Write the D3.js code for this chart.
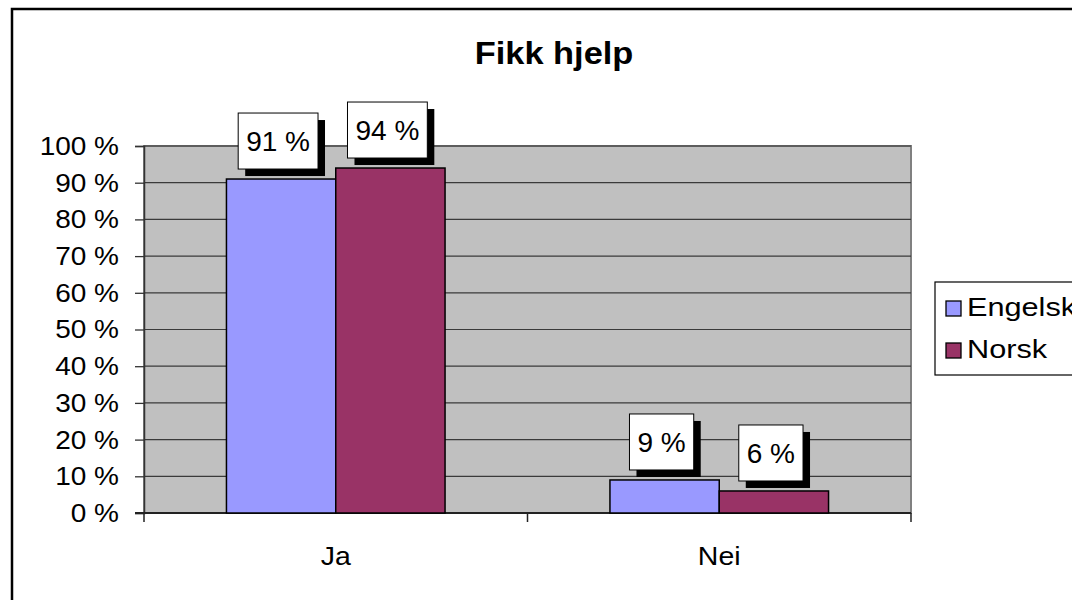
<!DOCTYPE html>
<html>
<head>
<meta charset="utf-8">
<script src="https://cdn.jsdelivr.net/npm/d3@7"></script>
<style>
  html, body { margin: 0; padding: 0; background: #fff; }
  svg { display: block; font-family: "Liberation Sans", Arial, sans-serif; }
</style>
</head>
<body>
<svg id="chart" width="1072" height="600"></svg>
<script>
// Survey answers, share of respondents per language group
const categories = ["Ja", "Nei"];
const seriesNames = ["Engelsk", "Norsk"];
const engelskValues = [91, 9];
const norskValues = [94, 6];
const yTicks = [0, 10, 20, 30, 40, 50, 60, 70, 80, 90, 100];
const title = "Fikk hjelp";

const colors = { Engelsk: "#9999FF", Norsk: "#993366" };

const rows = categories.map((c, i) => ({
  category: c,
  values: [
    { series: "Engelsk", value: engelskValues[i] },
    { series: "Norsk", value: norskValues[i] }
  ]
}));

const svg = d3.select("#chart");

// place a text node at (x, y) with a slight horizontal widening
function wideText(sel, x, y, sx) {
  return sel.attr("x", 0).attr("y", 0)
    .attr("transform", `translate(${x},${y}) scale(${sx},1)`);
}

// outer chart frame (runs past the right and bottom edges)
svg.append("rect")
  .attr("x", 12).attr("y", 9)
  .attr("width", 1100).attr("height", 640)
  .attr("fill", "#fff")
  .attr("stroke", "#000").attr("stroke-width", 2.5);

const plot = { left: 144, right: 911, top: 146, bottom: 513 };

const x = d3.scaleBand()
  .domain(categories)
  .range([plot.left, plot.right])
  .paddingInner(0.43)
  .paddingOuter(0.215);

const xs = d3.scaleBand()
  .domain(seriesNames)
  .range([0, x.bandwidth()]);

const y = d3.scaleLinear()
  .domain([0, 100])
  .range([plot.bottom, plot.top]);

// plot background
svg.append("rect")
  .attr("x", plot.left).attr("y", plot.top)
  .attr("width", plot.right - plot.left)
  .attr("height", plot.bottom - plot.top)
  .attr("fill", "#C0C0C0")
  .attr("stroke", "#808080").attr("stroke-width", 2);

// gridlines
svg.append("g")
  .selectAll("line")
  .data(yTicks.filter(d => d > 0))
  .join("line")
  .attr("x1", plot.left).attr("x2", plot.right)
  .attr("y1", d => y(d)).attr("y2", d => y(d))
  .attr("stroke", "#3a3a3a").attr("stroke-width", 1.2);

// y axis
const yAxis = svg.append("g")
  .attr("transform", `translate(${plot.left},0)`)
  .call(d3.axisLeft(y).tickValues(yTicks).tickSize(9).tickPadding(16)
    .tickFormat(d => d + " %"));
yAxis.select(".domain").attr("stroke", "#333").attr("stroke-width", 1.5);
yAxis.selectAll(".tick line").attr("stroke", "#333").attr("stroke-width", 1.3);
yAxis.selectAll(".tick text")
  .attr("font-size", 25)
  .attr("fill", "#000")
  .attr("font-family", "Liberation Sans, Arial, sans-serif")
  .attr("dy", null)
  .attr("dominant-baseline", "central")
  .attr("transform", "translate(-25,0) scale(1.12,1)")
  .attr("x", 0);

// x axis: ticks sit on category boundaries
const boundaries = [plot.left, (plot.left + plot.right) / 2, plot.right];
svg.append("g")
  .selectAll("line")
  .data(boundaries)
  .join("line")
  .attr("x1", d => d).attr("x2", d => d)
  .attr("y1", plot.bottom).attr("y2", plot.bottom + 9)
  .attr("stroke", "#222").attr("stroke-width", 1.5);

svg.append("line")
  .attr("x1", plot.left - 9).attr("x2", plot.right)
  .attr("y1", plot.bottom).attr("y2", plot.bottom)
  .attr("stroke", "#222").attr("stroke-width", 2);

svg.append("g")
  .selectAll("text")
  .data(categories)
  .join("text")
  .attr("text-anchor", "middle")
  .attr("font-size", 25)
  .text(d => d)
  .each(function(d) {
    wideText(d3.select(this), x(d) + x.bandwidth() / 2, 565, 1.14);
  });

// bars
const groups = svg.append("g")
  .selectAll("g")
  .data(rows)
  .join("g")
  .attr("transform", d => `translate(${x(d.category)},0)`);

groups.selectAll("rect")
  .data(d => d.values)
  .join("rect")
  .attr("x", d => xs(d.series))
  .attr("y", d => y(d.value))
  .attr("width", xs.bandwidth())
  .attr("height", d => y(0) - y(d.value))
  .attr("fill", d => colors[d.series])
  .attr("stroke", "#000").attr("stroke-width", 1.5);

// value labels: white boxes with a drop shadow
const labelFont = 28;
groups.each(function(row) {
  const g = d3.select(this);
  row.values.forEach(v => {
    const txt = v.value + " %";
    const cx = xs(v.series) + xs.bandwidth() / 2 - 3;
    const label = g.append("g");
    const t = label.append("text")
      .attr("x", cx)
      .attr("text-anchor", "middle")
      .attr("font-size", labelFont)
      .text(txt);
    const w = t.node().getComputedTextLength() + 16;
    const h = 56;
    const bottom = y(v.value) - 10;
    const top = bottom - h;
    label.insert("rect", "text")
      .attr("x", cx - w / 2 + 7).attr("y", top + 7)
      .attr("width", w).attr("height", h)
      .attr("fill", "#000");
    label.insert("rect", "text")
      .attr("x", cx - w / 2).attr("y", top)
      .attr("width", w).attr("height", h)
      .attr("fill", "#fff")
      .attr("stroke", "#000").attr("stroke-width", 1);
    t.attr("y", top + h / 2 + labelFont * 0.36);
  });
});

// title
svg.append("text")
  .attr("text-anchor", "middle")
  .attr("font-size", 31)
  .attr("font-weight", "bold")
  .text(title)
  .call(s => wideText(s, 554, 64, 1.11));

// legend
const legend = svg.append("g");
legend.append("rect")
  .attr("x", 935).attr("y", 282)
  .attr("width", 200).attr("height", 93)
  .attr("fill", "#fff")
  .attr("stroke", "#000").attr("stroke-width", 1.2);
const items = legend.selectAll("g.item")
  .data(seriesNames)
  .join("g")
  .attr("class", "item")
  .attr("transform", (d, i) => `translate(946,${301 + i * 42})`);
items.append("rect")
  .attr("width", 15).attr("height", 15)
  .attr("fill", d => colors[d])
  .attr("stroke", "#000").attr("stroke-width", 1.3);
items.append("text")
  .attr("font-size", 26)
  .text(d => d)
  .call(s => wideText(s, 21, 15, 1.18));
</script>
</body>
</html>
